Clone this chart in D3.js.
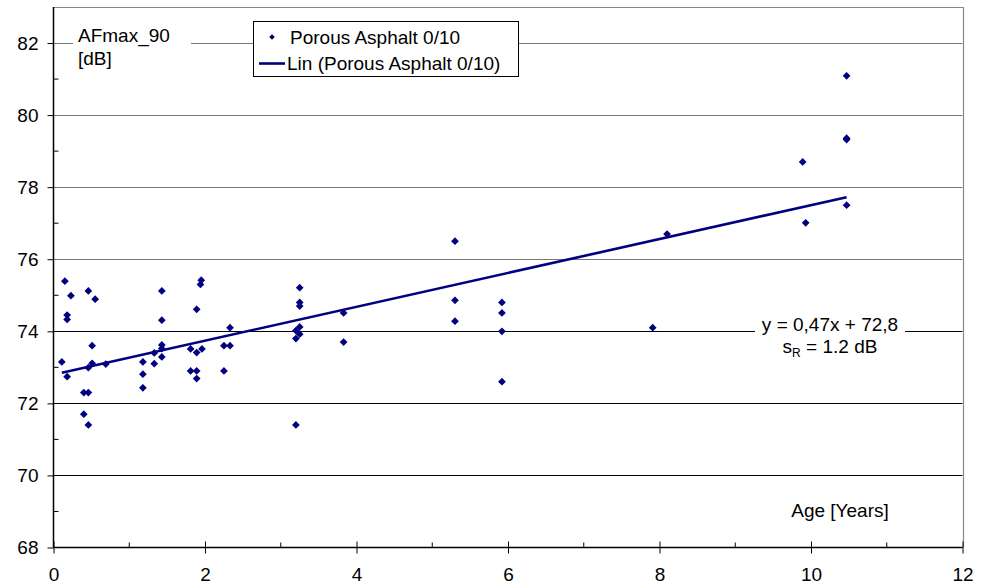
<!DOCTYPE html>
<html>
<head>
<meta charset="utf-8">
<script src="https://cdn.jsdelivr.net/npm/d3@7"></script>
<style>
  html, body { margin: 0; padding: 0; background: #fff; overflow: hidden; }
  svg { display: block; }
  text { font-family: "Liberation Sans", Arial, sans-serif; fill: #000; }
</style>
</head>
<body>
<svg id="chart" width="976" height="587"></svg>
<script>
// Measured noise level AFmax_90 against pavement age, porous asphalt 0/10
const ages = [
  0.11, 0.15, 0.23, 0.18, 0.18, 0.18, 0.40, 0.46, 0.40, 0.46,
  0.46, 0.55, 0.51, 0.51, 0.46, 0.69, 1.18, 1.18, 1.18, 1.33,
  1.33, 1.43, 1.43, 1.43, 1.43, 1.43, 1.81, 1.81, 1.89, 1.89,
  1.89, 1.89, 1.96, 1.95, 1.94, 2.25, 2.25, 2.33, 2.33, 3.25,
  3.25, 3.25, 3.25, 3.20, 3.25, 3.20, 3.20, 3.83, 3.83, 5.30,
  5.30, 5.30, 5.92, 5.92, 5.92, 5.92, 7.91, 8.10, 9.89, 9.93,
  10.47, 10.47, 10.47, 10.47
];
const levels = [
  73.15, 75.39, 74.99, 74.45, 74.33, 72.74, 72.30, 72.30, 71.70, 71.40,
  75.12, 74.89, 73.60, 73.11, 72.99, 73.09, 73.15, 72.81, 72.43, 73.40,
  73.10, 75.12, 74.31, 73.62, 73.52, 73.29, 73.51, 72.90, 74.61, 73.41,
  72.90, 72.69, 73.51, 75.42, 75.30, 73.60, 72.90, 74.10, 73.60, 75.21,
  74.80, 74.70, 74.12, 74.02, 73.92, 73.80, 71.40, 74.51, 73.70, 76.50,
  74.86, 74.28, 74.80, 74.51, 74.00, 72.60, 74.10, 76.70, 78.70, 77.01,
  81.09, 79.32, 79.36, 77.50
];
// Linear trend: y = 0,47x + 72,8
const slope = 0.47;
const intercept = 72.8;

const xTicks = [0, 2, 4, 6, 8, 10, 12];
const xMinorTicks = [1, 3, 5, 7, 9, 11];
const yTicks = [68, 70, 72, 74, 76, 78, 80, 82];
const yMinorTicks = [69, 71, 73, 75, 77, 79, 81];

const seriesName = "Porous Asphalt 0/10";
const trendName = "Lin (Porous Asphalt 0/10)";
const yLabel = ["AFmax_90", "[dB]"];
const xLabel = "Age [Years]";

const navy = "#000080";
const svg = d3.select("#chart");

const x = d3.scaleLinear().domain([0, 12]).range([53.5, 962.5]);
const y = d3.scaleLinear().domain([68, 83]).range([547.5, 7]);

// Horizontal gridlines
svg.append("g").selectAll("line")
  .data(yTicks.filter(d => d > 68))
  .join("line")
  .attr("x1", x(0)).attr("x2", x(12))
  .attr("y1", d => Math.round(y(d)) + 0.5).attr("y2", d => Math.round(y(d)) + 0.5)
  .attr("stroke", d => d >= 76 ? "#777" : "#000")
  .attr("stroke-width", 1);

// Plot frame (top and right)
svg.append("path")
  .attr("d", `M${x(0)},${Math.round(y(83)) + 0.5}H${Math.round(x(12)) + 0.5}V${y(68)}`)
  .attr("fill", "none").attr("stroke", "#888").attr("stroke-width", 1.2);

// Y axis
const yAxis = d3.axisLeft(y).tickValues(yTicks).tickSize(6).tickPadding(9)
  .tickFormat(d3.format("d"));
const gy = svg.append("g").attr("transform", `translate(${x(0)},0)`).call(yAxis);
gy.select(".domain").attr("stroke", "#000").attr("stroke-width", 1.5)
  .attr("d", `M0,${y(83)}V${y(68)}`);
gy.selectAll(".tick line").attr("stroke", "#000");
gy.selectAll(".tick text").style("font-size", "19px")
  .style("font-family", "'Liberation Sans', Arial, sans-serif").attr("fill", "#000");
svg.append("g").selectAll("line").data(yMinorTicks).join("line")
  .attr("x1", x(0)).attr("x2", x(0) + 5)
  .attr("y1", d => y(d)).attr("y2", d => y(d))
  .attr("stroke", "#000");

// X axis
const xAxis = d3.axisBottom(x).tickValues(xTicks).tickSize(6).tickPadding(14)
  .tickFormat(d3.format("d"));
const gx = svg.append("g").attr("transform", `translate(0,${y(68)})`).call(xAxis);
gx.select(".domain").attr("stroke", "#000").attr("stroke-width", 1.5)
  .attr("d", `M${x(0)},0H${x(12)}`);
gx.selectAll(".tick line").attr("stroke", "#000").attr("y1", -6).attr("y2", 6);
gx.selectAll(".tick text").style("font-size", "19px")
  .style("font-family", "'Liberation Sans', Arial, sans-serif").attr("fill", "#000");
svg.append("g").selectAll("line").data(xMinorTicks).join("line")
  .attr("x1", d => x(d)).attr("x2", d => x(d))
  .attr("y1", y(68)).attr("y2", y(68) - 5)
  .attr("stroke", "#000");

// Trend line
const xMin = d3.min(ages), xMax = d3.max(ages);
svg.append("line")
  .attr("x1", x(xMin)).attr("y1", y(intercept + slope * xMin))
  .attr("x2", x(xMax)).attr("y2", y(intercept + slope * xMax))
  .attr("stroke", navy).attr("stroke-width", 2.6);

// Data points as diamonds
const diamond = d3.symbol().type(d3.symbolSquare).size(30);
svg.append("g").selectAll("path")
  .data(ages.map((a, i) => [a, levels[i]]))
  .join("path")
  .attr("d", diamond)
  .attr("transform", d => `translate(${x(d[0])},${y(d[1])}) rotate(45)`)
  .attr("fill", navy);

// Y axis title on a white patch
svg.append("rect").attr("x", 73).attr("y", 22).attr("width", 118).attr("height", 52).attr("fill", "#fff");
svg.append("text").attr("x", 78).attr("y", 42).style("font-size", "19px").text(yLabel[0]);
svg.append("text").attr("x", 78).attr("y", 65).style("font-size", "19px").text(yLabel[1]);

// Legend
const lg = svg.append("g");
lg.append("rect").attr("x", 253.5).attr("y", 21.5).attr("width", 265).attr("height", 55)
  .attr("fill", "#fff").attr("stroke", "#000").attr("stroke-width", 1);
lg.append("path").attr("d", d3.symbol().type(d3.symbolSquare).size(16))
  .attr("transform", "translate(272,37) rotate(45)").attr("fill", navy);
lg.append("text").attr("x", 290).attr("y", 43.5).style("font-size", "19px").text(seriesName);
lg.append("line").attr("x1", 259).attr("x2", 285).attr("y1", 63.5).attr("y2", 63.5)
  .attr("stroke", navy).attr("stroke-width", 2.6);
lg.append("text").attr("x", 287).attr("y", 70).style("font-size", "19px").text(trendName);

// Regression annotation
svg.append("rect").attr("x", 755).attr("y", 312).attr("width", 150).attr("height", 24).attr("fill", "#fff");
svg.append("text").attr("x", 830).attr("y", 331).attr("text-anchor", "middle")
  .style("font-size", "19px").text(`y = ${String(slope).replace(".", ",")}x + ${String(intercept).replace(".", ",")}`);
const sr = svg.append("text").attr("x", 830).attr("y", 353).attr("text-anchor", "middle").style("font-size", "19px");
sr.append("tspan").text("s");
sr.append("tspan").attr("dy", 4).style("font-size", "12px").text("R");
sr.append("tspan").attr("dy", -4).text(" = 1.2 dB");

// X axis title
svg.append("text").attr("x", 840).attr("y", 517).attr("text-anchor", "middle")
  .style("font-size", "19px").text(xLabel);
</script>
</body>
</html>
